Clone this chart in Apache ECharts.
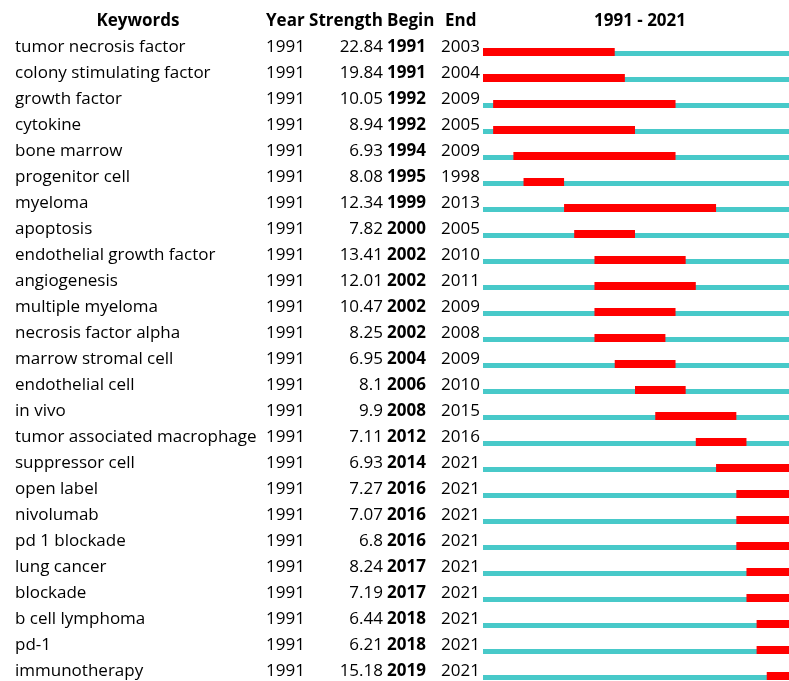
<!DOCTYPE html>
<html>
<head>
<meta charset="utf-8">
<script src="https://cdn.jsdelivr.net/npm/echarts@6/dist/echarts.min.js"></script>
<style>
  html, body { margin: 0; padding: 0; background: #fff; }
  #main { width: 789px; height: 681px; }
</style>
</head>
<body>
<div id="main"></div>
<script>
// burst data
var keywords = ['tumor necrosis factor', 'colony stimulating factor', 'growth factor', 'cytokine',
  'bone marrow', 'progenitor cell', 'myeloma', 'apoptosis', 'endothelial growth factor',
  'angiogenesis', 'multiple myeloma', 'necrosis factor alpha', 'marrow stromal cell',
  'endothelial cell', 'in vivo', 'tumor associated macrophage', 'suppressor cell', 'open label',
  'nivolumab', 'pd 1 blockade', 'lung cancer', 'blockade', 'b cell lymphoma', 'pd-1', 'immunotherapy'];
var years = [1991, 1991, 1991, 1991, 1991, 1991, 1991, 1991, 1991, 1991, 1991, 1991, 1991,
  1991, 1991, 1991, 1991, 1991, 1991, 1991, 1991, 1991, 1991, 1991, 1991];
var strengths = ['22.84', '19.84', '10.05', '8.94', '6.93', '8.08', '12.34', '7.82', '13.41',
  '12.01', '10.47', '8.25', '6.95', '8.1', '9.9', '7.11', '6.93', '7.27', '7.07', '6.8',
  '8.24', '7.19', '6.44', '6.21', '15.18'];
var begins = [1991, 1991, 1992, 1992, 1994, 1995, 1999, 2000, 2002, 2002, 2002, 2002, 2004,
  2006, 2008, 2012, 2014, 2016, 2016, 2016, 2017, 2017, 2018, 2018, 2019];
var ends = [2003, 2004, 2009, 2005, 2009, 1998, 2013, 2005, 2010, 2011, 2009, 2008, 2009,
  2010, 2015, 2016, 2021, 2021, 2021, 2021, 2021, 2021, 2021, 2021, 2021];
var startYear = 1991, endYear = 2021;

var FONT = '"Open Sans", sans-serif';
var FS = 17;

var myChart = echarts.init(document.getElementById('main'));

var rows = keywords.map(function (k, i) {
  return [i, begins[i], ends[i]];
});

function renderRow(params, api) {
  var i = api.value(0);
  var c = api.coord([startYear, i]);
  var cy = c[1];
  var x0 = c[0];
  // each year is a cell [y, y+1), so the last year ends at endYear + 1
  var x1 = api.coord([endYear + 1, i])[0];
  var b0 = api.coord([api.value(1), i])[0];
  var b1 = api.coord([api.value(2) + 1, i])[0];
  var txt = function (x, s, align, bold) {
    return {
      type: 'text',
      style: {
        x: x, y: cy + 1, text: s, align: align, verticalAlign: 'middle',
        font: (bold ? 'bold ' : '') + FS + 'px ' + FONT, fill: '#000'
      }
    };
  };
  return {
    type: 'group',
    children: [
      { type: 'rect', shape: { x: x0, y: cy + 5, width: x1 - x0, height: 5 }, style: { fill: '#48c9c9' } },
      { type: 'rect', shape: { x: b0, y: cy + 2, width: b1 - b0, height: 8 }, style: { fill: '#ff0000' } },
      txt(15, keywords[i], 'left', false),
      txt(266, String(years[i]), 'left', false),
      txt(383, strengths[i], 'right', false),
      txt(387, String(begins[i]), 'left', true),
      txt(441, String(ends[i]), 'left', false)
    ]
  };
}

var headFont = 'bold ' + FS + 'px ' + FONT;
var headY = 21;
option = {
  animation: false,
  grid: { left: 483, width: 304, top: 46, height: 624 },
  xAxis: { type: 'value', min: startYear, max: endYear, show: false },
  yAxis: { type: 'value', min: 0, max: keywords.length - 1, inverse: true, show: false },
  graphic: [
    { type: 'text', style: { x: 138, y: headY, text: 'Keywords', align: 'center', verticalAlign: 'middle', font: headFont, fill: '#000' } },
    { type: 'text', style: { x: 266, y: headY, text: 'Year', align: 'left', verticalAlign: 'middle', font: headFont, fill: '#000' } },
    { type: 'text', style: { x: 346, y: headY, text: 'Strength', align: 'center', verticalAlign: 'middle', font: headFont, fill: '#000' } },
    { type: 'text', style: { x: 387, y: headY, text: 'Begin', align: 'left', verticalAlign: 'middle', font: headFont, fill: '#000' } },
    { type: 'text', style: { x: 445, y: headY, text: 'End', align: 'left', verticalAlign: 'middle', font: headFont, fill: '#000' } },
    { type: 'text', style: { x: 640, y: headY, text: startYear + ' - ' + endYear, align: 'center', verticalAlign: 'middle', font: headFont, fill: '#000' } }
  ],
  series: [{
    type: 'custom',
    renderItem: renderRow,
    data: rows,
    encode: { x: [1, 2], y: 0 }
  }]
};
myChart.setOption(option);
</script>
</body>
</html>
